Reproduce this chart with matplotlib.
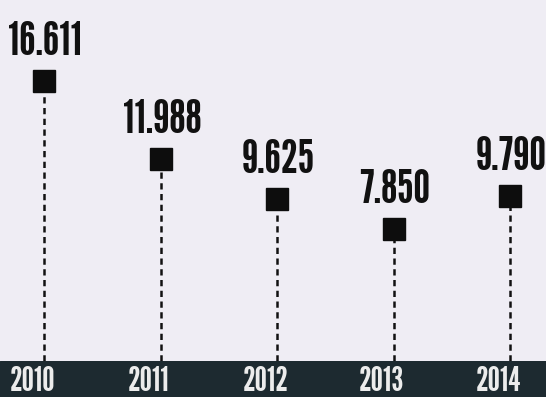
import numpy as np
import matplotlib.pyplot as plt

years = [2010, 2011, 2012, 2013, 2014]
values = [16.611, 11.988, 9.625, 7.850, 9.790]
value_labels = ["16.611", "11.988", "9.625", "7.850", "9.790"]
year_labels = ["2010", "2011", "2012", "2013", "2014"]

font = ["League Gothic", "Bebas Neue", "DejaVu Sans"]
bg = "#efedf4"
band = "#1d2a30"

fig = plt.figure(figsize=(5.46, 3.97), dpi=100, facecolor=bg)

band_h = 36 / 397
ax = fig.add_axes([0, band_h, 1, 1 - band_h], facecolor=bg)
ax.set_xlim(2009.622, 2014.309)
ax.set_ylim(0, 21.4)
ax.axis("off")

ax.vlines(years, 0, values, colors="#111111", linewidth=1.8,
          linestyles=(0, (2.5, 1.8)), zorder=1)
ax.plot(years, values, linestyle="none", marker="s", markersize=16,
        color="#0d0d0d", zorder=2)

for x, y, lab in zip(years, values, value_labels):
    ax.annotate(lab, (x, y), xytext=(1, 12), textcoords="offset points",
                ha="center", va="bottom", fontsize=34,
                family=font, color="#111111", clip_on=False)

bax = fig.add_axes([0, 0, 1, band_h], facecolor=band)
bax.set_xlim(ax.get_xlim())
bax.set_ylim(0, 1)
bax.axis("off")
bax.add_patch(plt.Rectangle((0, 0), 1, 1, transform=bax.transAxes,
                            color=band, zorder=0))
for x, lab in zip(years, year_labels):
    bax.text(x - 0.1, 0.42, lab, ha="center", va="center", fontsize=25,
             family=font, color="#ececec")

fig.savefig("out.png", dpi=100, facecolor=bg)
